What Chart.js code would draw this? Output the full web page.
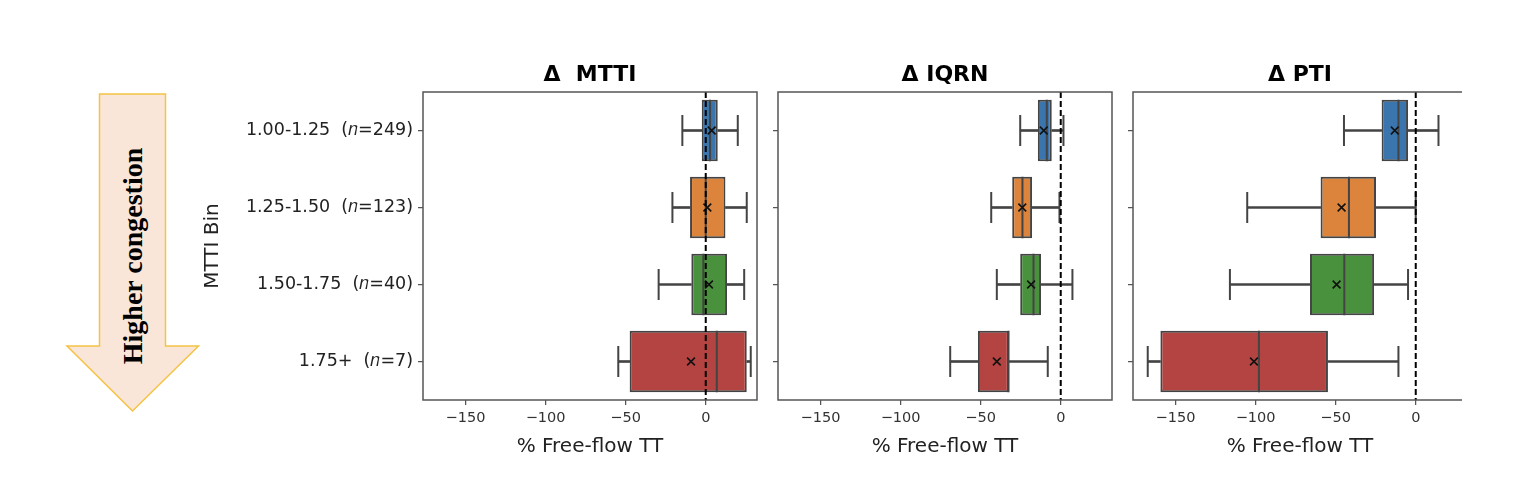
<!DOCTYPE html>
<html>
<head>
<meta charset="utf-8">
<script src="https://cdn.jsdelivr.net/npm/chart.js@4.4.1/dist/chart.umd.min.js"></script>
<style>
  html, body { margin: 0; padding: 0; background: #fff; width: 1518px; height: 490px; overflow: hidden; }
  .wrap { position: absolute; top: 0; height: 490px; overflow: hidden; }
  canvas { position: absolute; top: 0; left: 0; }
  svg { position: absolute; left: 0; top: 0; }
</style>
</head>
<body>
<svg width="240" height="490">
  <polygon points="99.5,94 165.5,94 165.5,346 198.5,346 132.5,411 67,346 99.5,346" fill="#fae6d9" stroke="#f5c343" stroke-width="1.5"/>
  <text transform="translate(141.5,256) rotate(-90)" text-anchor="middle" font-family="Liberation Serif" font-weight="bold" font-size="28" fill="#000">Higher congestion</text>
</svg>
<div class="wrap" style="left:190px;width:580px;"><canvas id="c1" width="580" height="490" style="width:580px;height:490px"></canvas></div>
<div class="wrap" style="left:763px;width:365px;"><canvas id="c2" width="365" height="490" style="width:365px;height:490px"></canvas></div>
<div class="wrap" style="left:1118px;width:344px;"><canvas id="c3" width="359" height="490" style="width:359px;height:490px"></canvas></div>
<script>
// ---- data ----
const binLabels = ['1.00-1.25', '1.25-1.50', '1.50-1.75', '1.75+'];
const binCounts = [249, 123, 40, 7];
const boxColors = ['#3a75ad', '#dc843c', '#4a913d', '#b44442'];
const xTickValues = [-150, -100, -50, 0];
const refValue = 0;

const mttiMin  = [-14.6, -20.8, -29.4, -54.6];
const mttiQ1   = [-2.5, -9.8, -9.0, -47.5];
const mttiMed  = [2.7, 0.0, -1.5, 6.9];
const mttiQ3   = [7.5, 12.3, 13.3, 25.6];
const mttiMax  = [20.0, 25.6, 24.0, 28.1];
const mttiMean = [3.7, 1.0, 2.0, -9.2];

const iqrnMin  = [-25.3, -43.4, -39.9, -69.0];
const iqrnQ1   = [-14.3, -30.3, -25.3, -51.7];
const iqrnMed  = [-8.7, -23.9, -17.0, -32.6];
const iqrnQ3   = [-5.6, -17.9, -12.3, -32.4];
const iqrnMax  = [1.7, -0.8, 7.3, -8.1];
const iqrnMean = [-10.6, -24.0, -18.5, -39.9];

const ptiMin  = [-44.8, -105.2, -116.0, -167.3];
const ptiQ1   = [-21.3, -59.4, -66.0, -159.4];
const ptiMed  = [-10.8, -41.7, -44.6, -97.9];
const ptiQ3   = [-4.8, -24.8, -26.0, -54.8];
const ptiMax  = [14.2, 0.0, -4.8, -10.8];
const ptiMean = [-13.1, -46.3, -49.4, -101.0];

const categories = binLabels.map((b, i) => b + '  (\u{1D45B}=' + binCounts[i] + ')');

Chart.defaults.font.family = 'DejaVu Sans';
Chart.defaults.color = '#222';

const EDGE = '#444';

const framePlugin = {
  id: 'frame',
  afterDatasetsDraw(chart) {
    const {ctx, chartArea: a, scales: {x}} = chart;
    const px = x.getPixelForValue(refValue);
    ctx.save();
    ctx.strokeStyle = '#000';
    ctx.lineWidth = 2;
    ctx.setLineDash([6, 3]);
    ctx.beginPath();
    ctx.moveTo(px, a.top);
    ctx.lineTo(px, a.bottom);
    ctx.stroke();
    ctx.restore();
  },
  afterDraw(chart) {
    const {ctx, chartArea: a} = chart;
    ctx.save();
    ctx.strokeStyle = '#555';
    ctx.lineWidth = 1.5;
    ctx.strokeRect(a.left, a.top, a.right - a.left, a.bottom - a.top);
    ctx.restore();
  }
};

function pts(vals) { return vals.map((v, i) => ({x: v, y: categories[i]})); }

function makeChart(id, title, mn, q1, med, q3, mx, mean, showY, yWidth, rightPad) {
  const datasets = [
    { type: 'scatter', data: pts(mean), pointStyle: 'crossRot', pointRadius: 5.5, pointHoverRadius: 5.5,
      pointBorderColor: '#111', pointBorderWidth: 1.6, order: 0 },
    { type: 'scatter', data: pts(med), pointStyle: 'line', pointRotation: 90, pointRadius: 30.8, pointHoverRadius: 30.8,
      pointBorderColor: EDGE, pointBorderWidth: 2, order: 1 },
    { type: 'scatter', data: pts(mn), pointStyle: 'line', pointRotation: 90, pointRadius: 15.5, pointHoverRadius: 15.5,
      pointBorderColor: EDGE, pointBorderWidth: 2, order: 2 },
    { type: 'scatter', data: pts(mx), pointStyle: 'line', pointRotation: 90, pointRadius: 15.5, pointHoverRadius: 15.5,
      pointBorderColor: EDGE, pointBorderWidth: 2, order: 2 },
    { type: 'bar', indexAxis: 'y', data: q1.map((v, i) => [v, q3[i]]), backgroundColor: boxColors,
      borderColor: EDGE, borderWidth: 2, borderSkipped: false, barPercentage: 0.8, categoryPercentage: 1,
      grouped: false, order: 3 },
    { type: 'bar', indexAxis: 'y', data: mn.map((v, i) => [v, q1[i]]), backgroundColor: EDGE,
      borderWidth: 0, barThickness: 2, grouped: false, order: 4 },
    { type: 'bar', indexAxis: 'y', data: q3.map((v, i) => [v, mx[i]]), backgroundColor: EDGE,
      borderWidth: 0, barThickness: 2, grouped: false, order: 4 }
  ];
  return new Chart(document.getElementById(id), {
    type: 'bar',
    data: { labels: categories, datasets },
    plugins: [framePlugin],
    options: {
      responsive: false,
      animation: false,
      events: [],
      layout: { autoPadding: false, padding: { left: 0, right: rightPad, top: 0, bottom: 0 } },
      plugins: {
        legend: { display: false },
        tooltip: { enabled: false },
        title: {
          display: true, text: title, fullSize: false, color: '#000',
          font: { size: 22, weight: 'bold', family: 'DejaVu Sans' },
          padding: { top: 61.8, bottom: 3.8 }
        }
      },
      scales: {
        x: {
          type: 'linear', min: -176.5, max: 32, offset: false,
          afterBuildTicks(s) { s.ticks = xTickValues.map(v => ({value: v})); },
          afterFit(s) { s.height = 90; s.paddingLeft = 0; s.paddingRight = 0; },
          grid: { offset: false, drawOnChartArea: false, drawTicks: true, tickLength: 5, color: '#555', lineWidth: 1.25 },
          border: { display: false },
          ticks: {
            color: '#333', font: { size: 14.5 }, padding: 5, autoSkip: false, maxRotation: 0,
            callback: v => (v < 0 ? '\u2212' + Math.abs(v) : String(v))
          },
          title: { display: true, text: '% Free-flow TT', color: '#222', font: { size: 20 }, padding: { top: 0, bottom: 31 } }
        },
        y: {
          type: 'category', labels: categories, offset: true,
          afterFit(s) { s.width = yWidth; s.paddingTop = 0; s.paddingBottom = 0; },
          grid: { offset: false, drawOnChartArea: false, drawTicks: true, tickLength: 5, color: '#555', lineWidth: 1.25 },
          border: { display: false },
          ticks: { display: showY, color: '#222', font: { size: 17.5 }, padding: 5, autoSkip: false },
          title: { display: showY, text: 'MTTI Bin', color: '#222', font: { size: 20 }, padding: { top: 11, bottom: 0 } }
        }
      }
    }
  });
}

makeChart('c1', '\u0394  MTTI', mttiMin, mttiQ1, mttiMed, mttiQ3, mttiMax, mttiMean, true, 233, 13);
makeChart('c2', '\u0394 IQRN', iqrnMin, iqrnQ1, iqrnMed, iqrnQ3, iqrnMax, iqrnMean, false, 15, 16);
makeChart('c3', '\u0394 PTI', ptiMin, ptiQ1, ptiMed, ptiQ3, ptiMax, ptiMean, false, 15, 10);
</script>
</body>
</html>
